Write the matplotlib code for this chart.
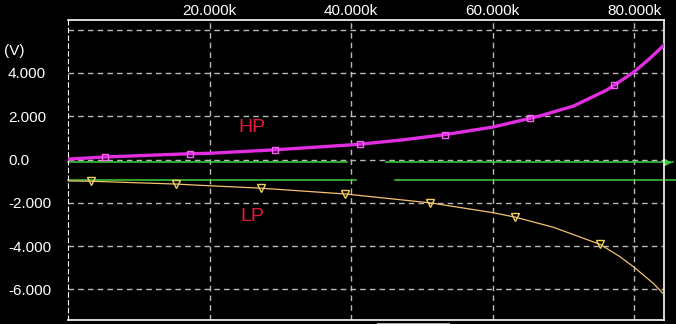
# Importing libraries
import numpy as np
import matplotlib
matplotlib.use('Agg')
import matplotlib.pyplot as plt
from matplotlib.patches import Rectangle

# Frequency axis values (kHz) and traces
hp_freq = [0, 5.2, 17.2, 20, 29.2, 40, 41.2, 47, 53.2, 60, 65.2, 66.7, 71.4, 76.1, 77.2, 80, 82.2, 84.2]
hp_volt = [0.02, 0.12, 0.27, 0.29, 0.45, 0.68, 0.71, 0.90, 1.15, 1.50, 1.90, 2.02, 2.47, 3.21, 3.44, 4.06, 4.67, 5.29]
hp_marks = [1, 2, 4, 6, 8, 10, 14]

lp_freq = [0, 3.2, 15.2, 20, 27.2, 39.2, 51.2, 60, 63.2, 68.6, 75.2, 78.0, 80.0, 82.7, 84.2]
lp_volt = [-0.99, -1.0, -1.13, -1.21, -1.32, -1.59, -2.0, -2.45, -2.66, -3.13, -3.92, -4.49, -4.98, -5.72, -6.23]
lp_marks = [1, 2, 4, 5, 6, 8, 10]

# Green reference lines: level and visible segments (kHz)
ref_upper_level = -0.10
ref_upper_segments = [(0, 39.4), (44.9, 85.5)]
ref_lower_level = -0.96
ref_lower_segments = [(0, 40.7), (46.2, 85.9)]

x_ticks = [20000, 40000, 60000, 80000]
y_ticks = [-6, -4, -2, 0, 2, 4, 6]
y_labels = ['-6.000', '-4.000', '-2.000', '0.0', '2.000', '4.000', '']

# Colours
bg = 'black'
grid_col = '#b8b8b8'
hp_col = '#e02ee0'
lp_col = '#f5c270'
green = '#3cd23c'
red = '#e8183c'

plt.rcParams['font.family'] = ['Liberation Sans', 'DejaVu Sans']

fig = plt.figure(figsize=(6.76, 3.24), dpi=100, facecolor=bg)
ax = fig.add_axes([68/676, 4/324, 596/676, 300.5/324], facecolor=bg)

# Grid
for x in x_ticks:
    ax.axvline(x, color=grid_col, lw=1, ls=(0, (4, 3)), zorder=1)
for y in y_ticks:
    ax.axhline(y, color=grid_col, lw=1, ls=(0, (4, 3)), zorder=1)

# Green reference lines (they run past the right border)
for x0, x1 in ref_upper_segments:
    ax.plot([x0*1000, x1*1000], [ref_upper_level]*2, color=green, lw=1.1, clip_on=False, zorder=2)
ax.plot([84.6*1000], [ref_upper_level], marker='>', color=green, ms=4, clip_on=False, zorder=2)
for x0, x1 in ref_lower_segments:
    ax.plot([x0*1000, x1*1000], [ref_lower_level]*2, color=green, lw=1.1, clip_on=False, zorder=2)

# Traces
ax.plot(np.array(hp_freq)*1000, hp_volt, color=hp_col, lw=2.4, marker='s', ms=4,
        mfc='none', mec='#ff60ff', mew=1, markevery=hp_marks, zorder=3)
ax.plot(np.array(lp_freq)*1000, lp_volt, color=lp_col, lw=0.9, marker='v', ms=6,
        mfc='none', mec='#f0d060', mew=1, markevery=lp_marks, zorder=3)

# Labels on the traces
ax.text(26000, 1.5, 'HP', color=red, fontsize=14, ha='center', va='center',
        family=['Liberation Sans Narrow', 'Liberation Sans'])
ax.text(26000, -2.64, 'LP', color=red, fontsize=14, ha='center', va='center',
        family=['Liberation Sans Narrow', 'Liberation Sans'])

ax.set_xlim(0, 84200)
ax.set_ylim(-7.41, 6.47)

# Ticks: x labels on top, y labels left aligned at the figure edge
ax.set_xticks(x_ticks)
ax.set_xticklabels([f'{v/1000:.3f}k' for v in x_ticks])
ax.xaxis.tick_top()
ax.tick_params(axis='x', length=0, pad=1, colors='white', labelsize=11)
ax.set_yticks(y_ticks)
ax.set_yticklabels(y_labels)
ax.tick_params(axis='y', length=0, pad=60*0.72, colors='white', labelsize=11)
for lbl in ax.get_yticklabels():
    lbl.set_horizontalalignment('left')
ax.text(4/676, 5.03, '(V)', color='white', fontsize=11, ha='left', va='center',
        transform=ax.get_yaxis_transform().__class__(fig.transFigure, ax.transData))

# Borders
for side in ['top', 'right', 'bottom']:
    ax.spines[side].set_color('white')
    ax.spines[side].set_linewidth(1.2)
ax.spines['left'].set_color('white')
ax.spines['left'].set_linestyle((0, (4, 3)))

# Small grey scrollbar below the plot
fig.add_artist(Rectangle((376.7/676, 0), 73.3/676, 1.5/324, transform=fig.transFigure,
                         color='#a0a0a0', lw=0))

fig.savefig('out.png', dpi=100, facecolor=bg)
